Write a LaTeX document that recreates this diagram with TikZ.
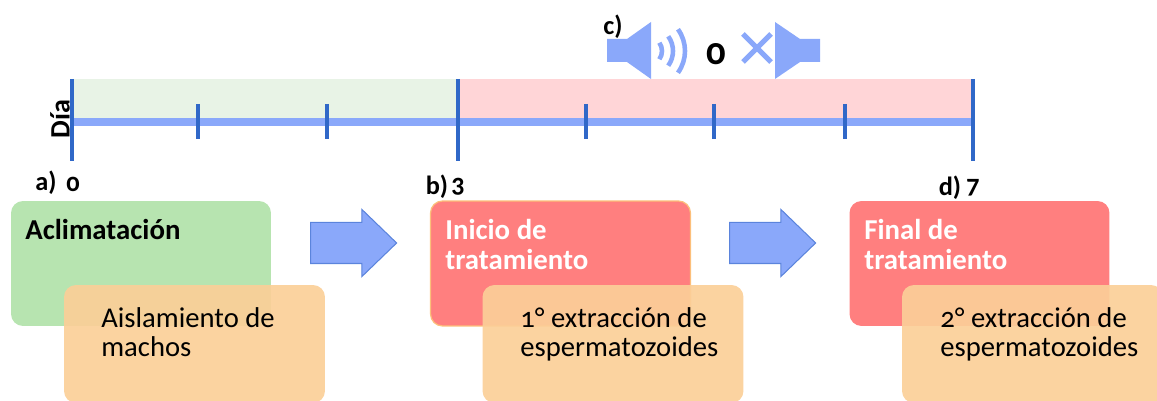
\documentclass[tikz,border=0pt]{standalone}
\usepackage{fontspec}
\setmainfont[Numbers=OldStyle]{Carlito}
\usetikzlibrary{shapes.arrows}

\definecolor{linea}{HTML}{8AA8FA}
\definecolor{marca}{HTML}{3068C8}
\definecolor{borde}{HTML}{5B84DC}
\definecolor{verde}{HTML}{B7E4B0}
\definecolor{verdeclaro}{HTML}{E8F3E6}
\definecolor{rojo}{HTML}{FF7F7F}
\definecolor{rojoclaro}{HTML}{FFD5D7}
\definecolor{naranja}{HTML}{FBCF98}

\tikzset{
    caja/.style={rectangle, rounded corners=0.24cm, inner sep=0pt, minimum width=5.2cm, minimum height=2.5cm},
    nota/.style={caja, fill=naranja, fill opacity=0.92, minimum width=5.22cm, minimum height=2.36cm},
    flecha/.style={single arrow, draw=borde, fill=linea, line width=0.6pt, inner xsep=0pt, inner ysep=0.4cm,
        minimum height=1.72cm, single arrow head extend=0.26cm, single arrow tip angle=88},
    titulo/.style={anchor=base west, align=left, font=\fontsize{16.4}{16.8}\selectfont\bfseries, inner sep=0pt},
    texto/.style={anchor=base west, align=left, font=\fontsize{16.3}{16.6}\selectfont, inner sep=0pt},
    etiqueta/.style={font=\fontsize{15}{15}\selectfont\bfseries, inner sep=0pt},
    mayor/.style={line width=2.2pt, draw=marca},
    menor/.style={line width=1.9pt, draw=marca},
}

\begin{document}
\begin{tikzpicture}[x=0.02cm, y=-0.02cm]

    \clip (0,0) rectangle (1157,401);

    % Bands behind the day line
    \fill[verdeclaro] (72,79) rectangle (458,122);
    \fill[rojoclaro] (458,79) rectangle (973,122);

    % Day line
    \coordinate (inicio) at (72,122);
    \coordinate (fin) at (973,122);
    \draw[linea, line width=4.5pt] (inicio) -- (fin);

    % Ticks
    \foreach \x in {198, 327, 586, 714, 845}
        \draw[menor] (\x,104) -- (\x,139);
    \foreach \x in {72, 458, 973}
        \draw[mayor] (\x,79) -- (\x,161);

    \node[etiqueta, rotate=90, font=\fontsize{16}{16}\selectfont\bfseries] (dia) at (60,119) {Día};

    % Sound on
    \fill[linea] (607,39) -- (627,39) -- (651,22) -- (651,79) -- (627,62) -- (607,62) -- cycle;
    \coordinate (onda) at (648,51);
    \foreach \r in {14, 25, 37}
        \draw[linea, line width=2.6pt] (onda) ++(-36:\r) arc[start angle=-36, end angle=36, radius=\r];

    \node[etiqueta] (c) at (613,27) {c)};
    \node[font=\fontsize{22}{22}\selectfont\bfseries, inner sep=0pt] (o) at (716,54) {0};

    % Sound off
    \draw[linea, line width=3pt] (743,34) -- (771,62);
    \draw[linea, line width=3pt] (771,34) -- (743,62);
    \fill[linea] (820,39) -- (800,39) -- (775,22) -- (775,79) -- (800,62) -- (820,62) -- cycle;

    % Day labels
    \node[etiqueta] (a) at (46,183) {a)};
    \node[etiqueta] (cero) at (73,184) {0};
    \node[etiqueta] (b) at (437,187) {b)};
    \node[etiqueta] (tres) at (458,187) {3};
    \node[etiqueta] (d) at (950,188) {d)};
    \node[etiqueta] (siete) at (973,188) {7};

    % Boxes
    \node[caja, fill=verde] (aclimatacion) at (141,263.5) {};
    \node[nota] (aislamiento) at (194.5,344) {};
    \node[titulo] at (25,239.5) {Aclimatación};
    \node[texto] at (101,356.5) {Aislamiento de\\machos};

    \node[caja, fill=rojo, draw=naranja!80!orange, line width=0.7pt] (tratamiento) at (560.5,263.5) {};
    \node[nota] (primera) at (613,344) {};
    \node[titulo, text=white] at (445,269.5) {Inicio de\\tratamiento};
    \node[texto] at (520,356.5) {1° extracción de\\espermatozoides};

    \node[caja, fill=rojo] (final) at (979.5,263.5) {};
    \node[nota] (segunda) at (1032.5,344) {};
    \node[titulo, text=white] at (864,269.5) {Final de\\tratamiento};
    \node[texto] at (940,356.5) {2° extracción de\\espermatozoides};

    % Arrows between boxes
    \node[flecha] (paso1) at (343,243) {};
    \node[flecha] (paso2) at (762,243) {};
\end{tikzpicture}
\end{document}
